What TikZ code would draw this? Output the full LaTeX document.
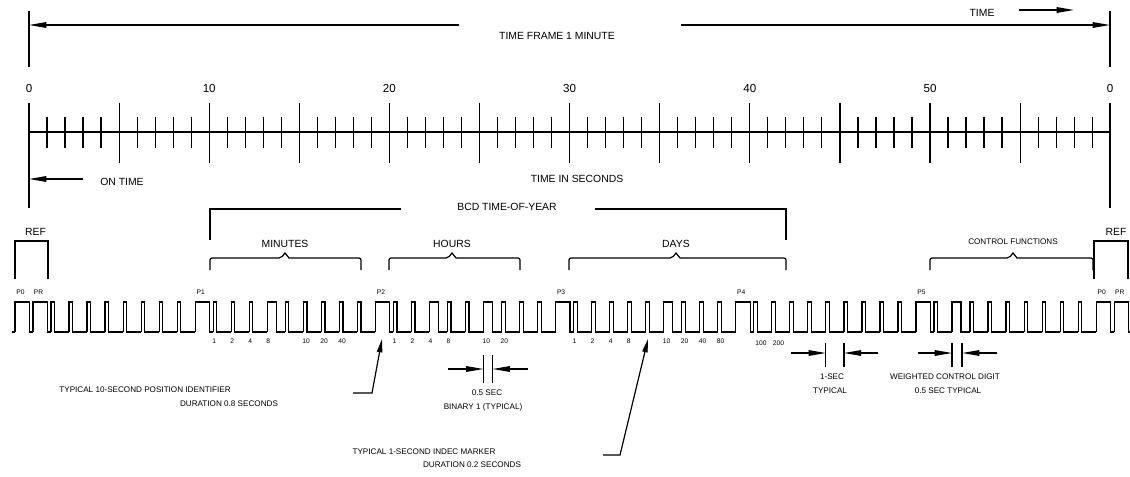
\documentclass[tikz,border=0pt]{standalone}
\usepackage{fontspec}
\setmainfont{Liberation Sans}
\usetikzlibrary{arrows.meta, positioning}

\tikzstyle{txt} = [inner sep=0pt, font=\fontsize{7.8}{9}\selectfont]
\tikzstyle{numtxt} = [inner sep=0pt, font=\fontsize{8.7}{10}\selectfont]
\tikzstyle{smalltxt} = [inner sep=0pt, font=\fontsize{6.1}{7}\selectfont]
\tikzstyle{tinytxt} = [inner sep=0pt, font=\fontsize{5}{6}\selectfont]
\tikzstyle{dimarrow} = [-{Triangle[length=13pt, width=4.2pt]}]
\tikzstyle{leader} = [-{Triangle[length=10pt, width=4pt]}]

% one second on the time line, and on the code
\newcommand{\tsec}[1]{29+18.02*(#1)}
\newcommand{\csec}[1]{33+18.02*(#1)}
% group brace: left end, peak, right end
\newcommand{\grpbrace}[3]{%
  \draw[rounded corners=1.5pt] (#1,270) |- (#2-4,258) [sharp corners] -- (#2,253) -- (#2+4,258) [rounded corners=1.5pt] -| (#3,270);}

\begin{document}
\begin{tikzpicture}[x=0.75pt, y=-0.75pt, line width=0.9pt]
  \useasboundingbox (0,0) rectangle (1130,476);

  % time frame
  \draw (29,11) -- (29,67);
  \draw (1110,11) -- (1110,67);
  \node[txt] (frame) at (557,36) {TIME FRAME 1 MINUTE};
  \coordinate (frameL) at (29,25);
  \coordinate (frameR) at (1110,25);
  \coordinate (gapL) at (459,25);
  \coordinate (gapR) at (681,25);
  \draw[dimarrow] (gapL) -- (frameL);
  \draw[dimarrow] (gapR) -- (frameR);

  \node[txt] (time) at (982,13) {TIME};
  \coordinate (timeA) at (1019,10);
  \coordinate (timeB) at (1074,10);
  \draw[dimarrow] (timeA) -- (timeB);

  % time scale
  \draw (29,132) -- (1110,132);
  \foreach \s in {1,...,59}
    \draw ({\tsec{\s}},116.5) -- ++(0,31);
  \foreach \s in {5,10,...,55}
    \draw ({\tsec{\s}},103) -- ++(0,60);
  \draw (29,103) -- (29,208);
  \draw (1110,103) -- (1110,208);
  \foreach \n/\t in {0/0, 1/10, 2/20, 3/30, 4/40, 5/50, 6/0}
    \node[numtxt] (num\n) at ({\tsec{10*\n}},89) {\t};

  \node[txt] (ontime) at (122,182) {ON TIME};
  \coordinate (onA) at (83,179);
  \coordinate (onB) at (29,179);
  \draw[dimarrow] (onA) -- (onB);
  \node[txt] (insec) at (577,179) {TIME IN SECONDS};

  % BCD time-of-year
  \node[txt] (bcd) at (507,207) {BCD TIME-OF-YEAR};
  \draw (210,240) |- (401,209);
  \draw (595,209) -| (786,240);

  % reference brackets
  \node[txt] (refL) at (35.5,232) {REF};
  \draw (15,279) |- (48,241) -- (48,279);
  \node[txt] (refR) at (1116,232) {REF};
  \draw (1094,279) |- (1128,241) -- (1128,279);

  % groups
  \node[txt] (minutes) at (285,244) {MINUTES};
  \grpbrace{210}{285}{361}
  \node[txt] (hours) at (452,244) {HOURS};
  \grpbrace{389}{452}{520}
  \node[txt] (days) at (676,244) {DAYS};
  \grpbrace{569}{676}{786}
  \node[smalltxt] (ctrl) at (1013,242) {CONTROL FUNCTIONS};
  \grpbrace{930}{1013}{1093}

  % code: second / high time
  \draw (12,332) -- (15,332);
  \foreach \s/\w in {-1/.8, 0/.8, 1/.2, 2/.2, 3/.2, 4/.2, 5/.2, 6/.2, 7/.2, 8/.2,
                     9/.8, 10/.2, 11/.2, 12/.2, 13/.5, 14/.2, 15/.2, 16/.2, 17/.2, 18/.2,
                     19/.8, 20/.2, 21/.2, 22/.5, 23/.2, 24/.2, 25/.5, 26/.2, 27/.2, 28/.2,
                     29/.8, 30/.2, 31/.2, 32/.2, 33/.2, 34/.2, 35/.5, 36/.2, 37/.2, 38/.2,
                     39/.8, 40/.2, 41/.2, 42/.2, 43/.2, 44/.2, 45/.2, 46/.2, 47/.2, 48/.2,
                     49/.8, 50/.2, 51/.5, 52/.2, 53/.2, 54/.2, 55/.2, 56/.2, 57/.2, 58/.2,
                     59/.8}
    \draw ({\csec{\s}},332) |- ({\csec{\s+\w}},302) |- ({\csec{\s+1}},332);
  \draw ({\csec{60}},332) |- ({\csec{60.8}},302) |- (1130,332);

  \foreach \s/\t/\n in {-1/P0/a, 0/PR/b, 9/P1/c, 19/P2/d, 29/P3/e, 39/P4/f, 49/P5/g, 59/P0/h, 60/PR/i}
    \node[tinytxt] (mark\n) at ({\csec{\s}+5.5},292) {\t};

  \foreach \s/\t in {10/1, 11/2, 12/4, 13/8, 15/10, 16/20, 17/40,
                     20/1, 21/2, 22/4, 23/8, 25/10, 26/20,
                     30/1, 31/2, 32/4, 33/8, 35/10, 36/20, 37/40, 38/80}
    \node[tinytxt, anchor=west] (bit\s) at ({\csec{\s}-1.5},341) {\t};
  \node[tinytxt, anchor=west] (bit40) at ({\csec{40}+1},343) {100};
  \node[tinytxt, anchor=west] (bit41) at ({\csec{41}+0.5},343) {200};

  % binary 1
  \draw ({\csec{25}},355) -- ++(0,28);
  \draw ({\csec{25.5}},355) -- ++(0,28);
  \coordinate (b1L) at (448,369);
  \coordinate (b1l) at ({\csec{25}},369);
  \coordinate (b1R) at (528,369);
  \coordinate (b1r) at ({\csec{25.5}},369);
  \draw[dimarrow] (b1L) -- (b1l);
  \draw[dimarrow] (b1R) -- (b1r);
  \node[smalltxt] (halfsec) at (487,393) {0.5 SEC};
  \node[smalltxt] (binone) at (483,407) {BINARY 1 (TYPICAL)};

  % one second
  \draw ({\csec{44}},343) -- ++(0,24);
  \draw ({\csec{45}},343) -- ++(0,24);
  \coordinate (osL) at (791,353);
  \coordinate (osl) at ({\csec{44}},353);
  \coordinate (osR) at (878,353);
  \coordinate (osr) at ({\csec{45}},353);
  \draw[dimarrow] (osL) -- (osl);
  \draw[dimarrow] (osR) -- (osr);
  \node[smalltxt] (onesec) at (832,377) {1-SEC};
  \node[smalltxt] (onetyp) at (830,391) {TYPICAL};

  % weighted control digit
  \draw ({\csec{51.5}+1},343) -- ++(0,24);
  \draw ({\csec{51}},343) -- ++(0,24);
  \coordinate (wcL) at (918,353);
  \coordinate (wcl) at ({\csec{51}},353);
  \coordinate (wcR) at (997,353);
  \coordinate (wcr) at ({\csec{51.5}+1},353);
  \draw[dimarrow] (wcL) -- (wcl);
  \draw[dimarrow] (wcR) -- (wcr);
  \node[smalltxt] (wcd) at (945,377) {WEIGHTED CONTROL DIGIT};
  \node[smalltxt] (wctyp) at (948,391) {0.5 SEC TYPICAL};

  % leaders
  \node[smalltxt] (posid) at (145,390) {TYPICAL 10-SECOND POSITION IDENTIFIER};
  \node[smalltxt] (posdur) at (229,404) {DURATION 0.8 SECONDS};
  \coordinate (pa) at (353,393);
  \coordinate (pb) at (372,393);
  \coordinate (pc) at (382,339);
  \draw[leader] (pa) -- (pb) -- (pc);

  \node[smalltxt] (idx) at (424,452) {TYPICAL 1-SECOND INDEC MARKER};
  \node[smalltxt] (idxdur) at (472,465) {DURATION 0.2 SECONDS};
  \coordinate (ia) at (603,455);
  \coordinate (ib) at (620,455);
  \coordinate (ic) at (648,339);
  \draw[leader] (ia) -- (ib) -- (ic);
\end{tikzpicture}
\end{document}
